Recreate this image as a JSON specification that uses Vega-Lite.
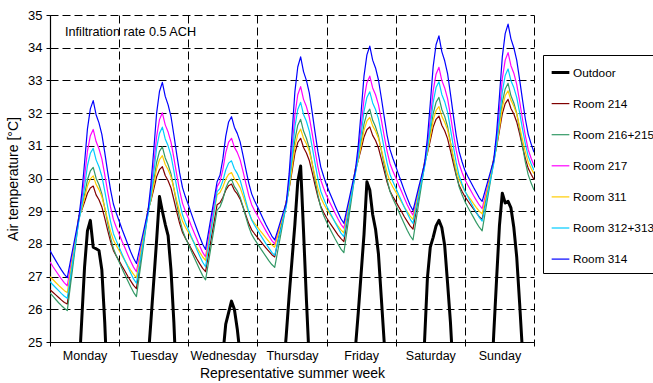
{
"$schema":"https://vega.github.io/schema/vega-lite/v6.json",
"width":484,"height":327,
"autosize":{"type":"none"},
"padding":{"left":50,"top":15,"right":119,"bottom":41},
"config":{
"view":{"stroke":null},
"font":"Liberation Sans",
"axis":{"domainColor":"black","tickColor":"black","labelColor":"black","titleColor":"black","labelFont":"Liberation Sans","titleFont":"Liberation Sans","titleFontWeight":"normal","gridColor":"black","gridDash":[8,4],"gridOpacity":1,"gridWidth":1,"tickSize":4,"domainWidth":1.2},
"axisY":{"tickCount":11},
"legend":{"strokeColor":"black","strokeWidth":1,"fillColor":"white","padding":7,"rowPadding":14.1,"labelFont":"Liberation Sans","labelFontSize":11.8,"labelColor":"black","symbolType":"stroke","symbolSize":313,"labelOffset":2,"orient":"none","legendX":493,"legendY":40}
},
"layer":[
{
"data":{"values":[
{"h":0,"Outdoor":20.5,"Room 214":26.6,"Room 216+215":26.5,"Room 217":27.45,"Room 311":27.0,"Room 312+313":26.85,"Room 314":27.8},
{"h":1,"Outdoor":20.0,"Room 214":26.52,"Room 216+215":26.40,"Room 217":27.31,"Room 311":26.91,"Room 312+313":26.75,"Room 314":27.64},
{"h":2,"Outdoor":19.5,"Room 214":26.44,"Room 216+215":26.30,"Room 217":27.18,"Room 311":26.82,"Room 312+313":26.66,"Room 314":27.49},
{"h":3,"Outdoor":19.1,"Room 214":26.36,"Room 216+215":26.20,"Room 217":27.05,"Room 311":26.73,"Room 312+313":26.57,"Room 314":27.34},
{"h":4,"Outdoor":18.8,"Room 214":26.28,"Room 216+215":26.11,"Room 217":26.92,"Room 311":26.65,"Room 312+313":26.48,"Room 314":27.20},
{"h":5,"Outdoor":18.6,"Room 214":26.21,"Room 216+215":26.03,"Room 217":26.81,"Room 311":26.57,"Room 312+313":26.40,"Room 314":27.07},
{"h":6,"Outdoor":18.9,"Room 214":26.16,"Room 216+215":25.96,"Room 217":26.72,"Room 311":26.51,"Room 312+313":26.34,"Room 314":26.97},
{"h":7,"Outdoor":19.8,"Room 214":26.83,"Room 216+215":26.66,"Room 217":27.23,"Room 311":27.08,"Room 312+313":26.93,"Room 314":27.43},
{"h":8,"Outdoor":21.0,"Room 214":27.51,"Room 216+215":27.36,"Room 217":27.74,"Room 311":27.66,"Room 312+313":27.52,"Room 314":27.89},
{"h":9,"Outdoor":22.4,"Room 214":28.18,"Room 216+215":28.05,"Room 217":28.24,"Room 311":28.23,"Room 312+313":28.11,"Room 314":28.34},
{"h":10,"Outdoor":24.0,"Room 214":28.85,"Room 216+215":28.75,"Room 217":28.75,"Room 311":28.8,"Room 312+313":28.7,"Room 314":28.8},
{"h":11,"Outdoor":25.65,"Room 214":29.03,"Room 216+215":29.07,"Room 217":29.30,"Room 311":29.06,"Room 312+313":29.14,"Room 314":29.52},
{"h":12,"Outdoor":27.3,"Room 214":29.28,"Room 216+215":29.50,"Room 217":30.04,"Room 311":29.40,"Room 312+313":29.74,"Room 314":30.48},
{"h":13,"Outdoor":28.4,"Room 214":29.55,"Room 216+215":29.96,"Room 217":30.84,"Room 311":29.77,"Room 312+313":30.39,"Room 314":31.52},
{"h":14,"Outdoor":28.72,"Room 214":29.71,"Room 216+215":30.23,"Room 217":31.31,"Room 311":29.99,"Room 312+313":30.77,"Room 314":32.13},
{"h":15,"Outdoor":27.9,"Room 214":29.77,"Room 216+215":30.34,"Room 217":31.5,"Room 311":30.08,"Room 312+313":30.92,"Room 314":32.38},
{"h":16,"Outdoor":27.85,"Room 214":29.50,"Room 216+215":30.01,"Room 217":31.13,"Room 311":29.82,"Room 312+313":30.57,"Room 314":31.95},
{"h":17,"Outdoor":27.8,"Room 214":29.35,"Room 216+215":29.81,"Room 217":30.91,"Room 311":29.66,"Room 312+313":30.36,"Room 314":31.70},
{"h":18,"Outdoor":27.2,"Room 214":29.13,"Room 216+215":29.53,"Room 217":30.60,"Room 311":29.44,"Room 312+313":30.07,"Room 314":31.35},
{"h":19,"Outdoor":25.6,"Room 214":28.79,"Room 216+215":29.10,"Room 217":30.12,"Room 311":29.10,"Room 312+313":29.62,"Room 314":30.80},
{"h":20,"Outdoor":23.5,"Room 214":28.42,"Room 216+215":28.64,"Room 217":29.61,"Room 311":28.74,"Room 312+313":29.14,"Room 314":30.21},
{"h":21,"Outdoor":22.4,"Room 214":28.08,"Room 216+215":28.20,"Room 217":29.13,"Room 311":28.39,"Room 312+313":28.69,"Room 314":29.66},
{"h":22,"Outdoor":21.6,"Room 214":27.80,"Room 216+215":27.86,"Room 217":28.75,"Room 311":28.12,"Room 312+313":28.32,"Room 314":29.22},
{"h":23,"Outdoor":21.0,"Room 214":27.63,"Room 216+215":27.64,"Room 217":28.51,"Room 311":27.95,"Room 312+313":28.10,"Room 314":28.94},
{"h":24,"Outdoor":20.5,"Room 214":27.48,"Room 216+215":27.45,"Room 217":28.3,"Room 311":27.8,"Room 312+313":27.9,"Room 314":28.7},
{"h":25,"Outdoor":20.0,"Room 214":27.32,"Room 216+215":27.25,"Room 217":28.08,"Room 311":27.64,"Room 312+313":27.69,"Room 314":28.45},
{"h":26,"Outdoor":19.5,"Room 214":27.17,"Room 216+215":27.06,"Room 217":27.88,"Room 311":27.49,"Room 312+313":27.49,"Room 314":28.22},
{"h":27,"Outdoor":19.1,"Room 214":27.01,"Room 216+215":26.87,"Room 217":27.67,"Room 311":27.34,"Room 312+313":27.30,"Room 314":27.99},
{"h":28,"Outdoor":18.8,"Room 214":26.87,"Room 216+215":26.69,"Room 217":27.47,"Room 311":27.20,"Room 312+313":27.11,"Room 314":27.76},
{"h":29,"Outdoor":18.7,"Room 214":26.73,"Room 216+215":26.52,"Room 217":27.29,"Room 311":27.07,"Room 312+313":26.93,"Room 314":27.56},
{"h":30,"Outdoor":19.0,"Room 214":26.63,"Room 216+215":26.39,"Room 217":27.15,"Room 311":26.97,"Room 312+313":26.8,"Room 314":27.4},
{"h":31,"Outdoor":20.0,"Room 214":27.24,"Room 216+215":27.03,"Room 217":27.6,"Room 311":27.48,"Room 312+313":27.33,"Room 314":27.8},
{"h":32,"Outdoor":21.3,"Room 214":27.84,"Room 216+215":27.67,"Room 217":28.05,"Room 311":27.99,"Room 312+313":27.85,"Room 314":28.2},
{"h":33,"Outdoor":22.9,"Room 214":28.45,"Room 216+215":28.31,"Room 217":28.5,"Room 311":28.49,"Room 312+313":28.38,"Room 314":28.6},
{"h":34,"Outdoor":24.4,"Room 214":29.05,"Room 216+215":28.95,"Room 217":28.95,"Room 311":29.0,"Room 312+313":28.9,"Room 314":29.0},
{"h":35,"Outdoor":25.6,"Room 214":29.31,"Room 216+215":29.35,"Room 217":29.56,"Room 311":29.34,"Room 312+313":29.43,"Room 314":29.79},
{"h":36,"Outdoor":26.85,"Room 214":29.67,"Room 216+215":29.90,"Room 217":30.39,"Room 311":29.80,"Room 312+313":30.16,"Room 314":30.85},
{"h":37,"Outdoor":28.1,"Room 214":30.05,"Room 216+215":30.49,"Room 217":31.28,"Room 311":30.29,"Room 312+313":30.93,"Room 314":31.99},
{"h":38,"Outdoor":29.45,"Room 214":30.27,"Room 216+215":30.83,"Room 217":31.80,"Room 311":30.58,"Room 312+313":31.38,"Room 314":32.66},
{"h":39,"Outdoor":29.0,"Room 214":30.36,"Room 216+215":30.97,"Room 217":32.01,"Room 311":30.70,"Room 312+313":31.57,"Room 314":32.94},
{"h":40,"Outdoor":28.6,"Room 214":30.09,"Room 216+215":30.63,"Room 217":31.64,"Room 311":30.43,"Room 312+313":31.21,"Room 314":32.51},
{"h":41,"Outdoor":28.25,"Room 214":29.93,"Room 216+215":30.42,"Room 217":31.42,"Room 311":30.27,"Room 312+313":31.00,"Room 314":32.25},
{"h":42,"Outdoor":27.2,"Room 214":29.71,"Room 216+215":30.14,"Room 217":31.11,"Room 311":30.05,"Room 312+313":30.70,"Room 314":31.89},
{"h":43,"Outdoor":25.6,"Room 214":29.35,"Room 216+215":29.69,"Room 217":30.63,"Room 311":29.69,"Room 312+313":30.23,"Room 314":31.33},
{"h":44,"Outdoor":23.5,"Room 214":28.98,"Room 216+215":29.22,"Room 217":30.11,"Room 311":29.32,"Room 312+313":29.73,"Room 314":30.73},
{"h":45,"Outdoor":22.4,"Room 214":28.63,"Room 216+215":28.77,"Room 217":29.63,"Room 311":28.97,"Room 312+313":29.26,"Room 314":30.17},
{"h":46,"Outdoor":21.6,"Room 214":28.35,"Room 216+215":28.42,"Room 217":29.24,"Room 311":28.69,"Room 312+313":28.89,"Room 314":29.72},
{"h":47,"Outdoor":21.0,"Room 214":28.17,"Room 216+215":28.19,"Room 217":29.00,"Room 311":28.51,"Room 312+313":28.65,"Room 314":29.44},
{"h":48,"Outdoor":20.4,"Room 214":28.02,"Room 216+215":28.0,"Room 217":28.79,"Room 311":28.36,"Room 312+313":28.45,"Room 314":29.2},
{"h":49,"Outdoor":19.9,"Room 214":27.86,"Room 216+215":27.79,"Room 217":28.56,"Room 311":28.20,"Room 312+313":28.23,"Room 314":28.94},
{"h":50,"Outdoor":19.4,"Room 214":27.70,"Room 216+215":27.59,"Room 217":28.35,"Room 311":28.04,"Room 312+313":28.03,"Room 314":28.69},
{"h":51,"Outdoor":19.0,"Room 214":27.54,"Room 216+215":27.40,"Room 217":28.14,"Room 311":27.89,"Room 312+313":27.82,"Room 314":28.45},
{"h":52,"Outdoor":18.7,"Room 214":27.39,"Room 216+215":27.21,"Room 217":27.93,"Room 311":27.74,"Room 312+313":27.62,"Room 314":28.21},
{"h":53,"Outdoor":18.5,"Room 214":27.25,"Room 216+215":27.03,"Room 217":27.74,"Room 311":27.60,"Room 312+313":27.44,"Room 314":27.99},
{"h":54,"Outdoor":18.8,"Room 214":27.15,"Room 216+215":26.9,"Room 217":27.6,"Room 311":27.5,"Room 312+313":27.3,"Room 314":27.83},
{"h":55,"Outdoor":19.5,"Room 214":27.66,"Room 216+215":27.43,"Room 217":28.14,"Room 311":28.0,"Room 312+313":27.88,"Room 314":28.35},
{"h":56,"Outdoor":20.4,"Room 214":28.18,"Room 216+215":27.97,"Room 217":28.68,"Room 311":28.5,"Room 312+313":28.45,"Room 314":28.87},
{"h":57,"Outdoor":21.4,"Room 214":28.69,"Room 216+215":28.50,"Room 217":29.21,"Room 311":29.0,"Room 312+313":29.03,"Room 314":29.38},
{"h":58,"Outdoor":22.4,"Room 214":29.2,"Room 216+215":29.03,"Room 217":29.75,"Room 311":29.5,"Room 312+313":29.6,"Room 314":29.9},
{"h":59,"Outdoor":23.5,"Room 214":29.26,"Room 216+215":29.13,"Room 217":29.90,"Room 311":29.57,"Room 312+313":29.69,"Room 314":30.10},
{"h":60,"Outdoor":24.6,"Room 214":29.42,"Room 216+215":29.36,"Room 217":30.27,"Room 311":29.74,"Room 312+313":29.93,"Room 314":30.60},
{"h":61,"Outdoor":25.55,"Room 214":29.64,"Room 216+215":29.70,"Room 217":30.79,"Room 311":29.98,"Room 312+313":30.26,"Room 314":31.29},
{"h":62,"Outdoor":25.9,"Room 214":29.78,"Room 216+215":29.90,"Room 217":31.11,"Room 311":30.13,"Room 312+313":30.47,"Room 314":31.73},
{"h":63,"Outdoor":26.25,"Room 214":29.83,"Room 216+215":29.98,"Room 217":31.23,"Room 311":30.18,"Room 312+313":30.54,"Room 314":31.89},
{"h":64,"Outdoor":26.0,"Room 214":29.64,"Room 216+215":29.75,"Room 217":30.96,"Room 311":29.99,"Room 312+313":30.30,"Room 314":31.57},
{"h":65,"Outdoor":25.4,"Room 214":29.53,"Room 216+215":29.62,"Room 217":30.80,"Room 311":29.88,"Room 312+313":30.15,"Room 314":31.38},
{"h":66,"Outdoor":24.6,"Room 214":29.37,"Room 216+215":29.43,"Room 217":30.57,"Room 311":29.72,"Room 312+313":29.95,"Room 314":31.12},
{"h":67,"Outdoor":23.5,"Room 214":29.13,"Room 216+215":29.13,"Room 217":30.22,"Room 311":29.47,"Room 312+313":29.63,"Room 314":30.71},
{"h":68,"Outdoor":22.6,"Room 214":28.87,"Room 216+215":28.82,"Room 217":29.84,"Room 311":29.20,"Room 312+313":29.30,"Room 314":30.27},
{"h":69,"Outdoor":21.9,"Room 214":28.62,"Room 216+215":28.52,"Room 217":29.48,"Room 311":28.95,"Room 312+313":28.98,"Room 314":29.86},
{"h":70,"Outdoor":21.3,"Room 214":28.43,"Room 216+215":28.29,"Room 217":29.20,"Room 311":28.75,"Room 312+313":28.73,"Room 314":29.53},
{"h":71,"Outdoor":20.9,"Room 214":28.31,"Room 216+215":28.14,"Room 217":29.02,"Room 311":28.63,"Room 312+313":28.57,"Room 314":29.32},
{"h":72,"Outdoor":20.5,"Room 214":28.2,"Room 216+215":28.01,"Room 217":28.87,"Room 311":28.52,"Room 312+313":28.43,"Room 314":29.14},
{"h":73,"Outdoor":20.0,"Room 214":28.09,"Room 216+215":27.87,"Room 217":28.70,"Room 311":28.40,"Room 312+313":28.28,"Room 314":28.95},
{"h":74,"Outdoor":19.5,"Room 214":27.98,"Room 216+215":27.74,"Room 217":28.55,"Room 311":28.29,"Room 312+313":28.14,"Room 314":28.76},
{"h":75,"Outdoor":19.1,"Room 214":27.87,"Room 216+215":27.61,"Room 217":28.39,"Room 311":28.18,"Room 312+313":28.00,"Room 314":28.58},
{"h":76,"Outdoor":18.8,"Room 214":27.77,"Room 216+215":27.48,"Room 217":28.24,"Room 311":28.07,"Room 312+313":27.87,"Room 314":28.41},
{"h":77,"Outdoor":18.7,"Room 214":27.67,"Room 216+215":27.37,"Room 217":28.10,"Room 311":27.97,"Room 312+313":27.74,"Room 314":28.24},
{"h":78,"Outdoor":19.2,"Room 214":27.6,"Room 216+215":27.28,"Room 217":28.0,"Room 311":27.9,"Room 312+313":27.65,"Room 314":28.12},
{"h":79,"Outdoor":20.3,"Room 214":28.03,"Room 216+215":27.76,"Room 217":28.3,"Room 311":28.24,"Room 312+313":28.03,"Room 314":28.40},
{"h":80,"Outdoor":21.7,"Room 214":28.45,"Room 216+215":28.24,"Room 217":28.6,"Room 311":28.58,"Room 312+313":28.4,"Room 314":28.69},
{"h":81,"Outdoor":24.1,"Room 214":28.88,"Room 216+215":28.72,"Room 217":28.9,"Room 311":28.91,"Room 312+313":28.78,"Room 314":28.97},
{"h":82,"Outdoor":25.2,"Room 214":29.3,"Room 216+215":29.2,"Room 217":29.2,"Room 311":29.25,"Room 312+313":29.15,"Room 314":29.25},
{"h":83,"Outdoor":26.4,"Room 214":29.69,"Room 216+215":29.72,"Room 217":29.92,"Room 311":29.70,"Room 312+313":29.79,"Room 314":30.14},
{"h":84,"Outdoor":27.5,"Room 214":30.21,"Room 216+215":30.43,"Room 217":30.90,"Room 311":30.31,"Room 312+313":30.65,"Room 314":31.35},
{"h":85,"Outdoor":28.6,"Room 214":30.77,"Room 216+215":31.18,"Room 217":31.94,"Room 311":30.97,"Room 312+313":31.57,"Room 314":32.65},
{"h":86,"Outdoor":29.9,"Room 214":31.10,"Room 216+215":31.63,"Room 217":32.56,"Room 311":31.35,"Room 312+313":32.11,"Room 314":33.41},
{"h":87,"Outdoor":30.38,"Room 214":31.23,"Room 216+215":31.81,"Room 217":32.81,"Room 311":31.51,"Room 312+313":32.33,"Room 314":33.72},
{"h":88,"Outdoor":28.4,"Room 214":30.95,"Room 216+215":31.45,"Room 217":32.42,"Room 311":31.23,"Room 312+313":31.96,"Room 314":33.27},
{"h":89,"Outdoor":26.3,"Room 214":30.78,"Room 216+215":31.23,"Room 217":32.20,"Room 311":31.06,"Room 312+313":31.75,"Room 314":33.00},
{"h":90,"Outdoor":24.4,"Room 214":30.55,"Room 216+215":30.93,"Room 217":31.88,"Room 311":30.83,"Room 312+313":31.45,"Room 314":32.62},
{"h":91,"Outdoor":22.9,"Room 214":30.19,"Room 216+215":30.46,"Room 217":31.38,"Room 311":30.46,"Room 312+313":30.97,"Room 314":32.03},
{"h":92,"Outdoor":22.0,"Room 214":29.80,"Room 216+215":29.96,"Room 217":30.85,"Room 311":30.07,"Room 312+313":30.47,"Room 314":31.41},
{"h":93,"Outdoor":21.4,"Room 214":29.43,"Room 216+215":29.49,"Room 217":30.35,"Room 311":29.70,"Room 312+313":29.99,"Room 314":30.82},
{"h":94,"Outdoor":21.0,"Room 214":29.14,"Room 216+215":29.11,"Room 217":29.95,"Room 311":29.41,"Room 312+313":29.61,"Room 314":30.35},
{"h":95,"Outdoor":20.7,"Room 214":28.96,"Room 216+215":28.87,"Room 217":29.70,"Room 311":29.23,"Room 312+313":29.38,"Room 314":30.06},
{"h":96,"Outdoor":20.4,"Room 214":28.8,"Room 216+215":28.67,"Room 217":29.48,"Room 311":29.07,"Room 312+313":29.17,"Room 314":29.8},
{"h":97,"Outdoor":19.9,"Room 214":28.66,"Room 216+215":28.49,"Room 217":29.29,"Room 311":28.93,"Room 312+313":28.99,"Room 314":29.58},
{"h":98,"Outdoor":19.5,"Room 214":28.53,"Room 216+215":28.32,"Room 217":29.11,"Room 311":28.80,"Room 312+313":28.82,"Room 314":29.37},
{"h":99,"Outdoor":19.1,"Room 214":28.40,"Room 216+215":28.15,"Room 217":28.93,"Room 311":28.67,"Room 312+313":28.65,"Room 314":29.16},
{"h":100,"Outdoor":18.8,"Room 214":28.27,"Room 216+215":27.99,"Room 217":28.76,"Room 311":28.54,"Room 312+313":28.49,"Room 314":28.96},
{"h":101,"Outdoor":18.7,"Room 214":28.16,"Room 216+215":27.84,"Room 217":28.60,"Room 311":28.43,"Room 312+313":28.33,"Room 314":28.77},
{"h":102,"Outdoor":19.1,"Room 214":28.07,"Room 216+215":27.73,"Room 217":28.48,"Room 311":28.34,"Room 312+313":28.22,"Room 314":28.63},
{"h":103,"Outdoor":20.2,"Room 214":28.63,"Room 216+215":28.35,"Room 217":28.91,"Room 311":28.82,"Room 312+313":28.70,"Room 314":29.04},
{"h":104,"Outdoor":21.6,"Room 214":29.19,"Room 216+215":28.97,"Room 217":29.34,"Room 311":29.30,"Room 312+313":29.19,"Room 314":29.44},
{"h":105,"Outdoor":23.6,"Room 214":29.74,"Room 216+215":29.58,"Room 217":29.77,"Room 311":29.77,"Room 312+313":29.67,"Room 314":29.85},
{"h":106,"Outdoor":24.8,"Room 214":30.3,"Room 216+215":30.2,"Room 217":30.2,"Room 311":30.25,"Room 312+313":30.15,"Room 314":30.25},
{"h":107,"Outdoor":25.9,"Room 214":30.56,"Room 216+215":30.58,"Room 217":30.79,"Room 311":30.57,"Room 312+313":30.65,"Room 314":31.01},
{"h":108,"Outdoor":27.1,"Room 214":30.90,"Room 216+215":31.10,"Room 217":31.58,"Room 311":31.01,"Room 312+313":31.33,"Room 314":32.04},
{"h":109,"Outdoor":28.3,"Room 214":31.27,"Room 216+215":31.66,"Room 217":32.43,"Room 311":31.48,"Room 312+313":32.05,"Room 314":33.14},
{"h":110,"Outdoor":29.9,"Room 214":31.49,"Room 216+215":31.99,"Room 217":32.93,"Room 311":31.76,"Room 312+313":32.48,"Room 314":33.78},
{"h":111,"Outdoor":29.65,"Room 214":31.58,"Room 216+215":32.12,"Room 217":33.13,"Room 311":31.87,"Room 312+313":32.65,"Room 314":34.05},
{"h":112,"Outdoor":28.9,"Room 214":31.32,"Room 216+215":31.78,"Room 217":32.77,"Room 311":31.61,"Room 312+313":32.31,"Room 314":33.62},
{"h":113,"Outdoor":28.45,"Room 214":31.16,"Room 216+215":31.58,"Room 217":32.56,"Room 311":31.45,"Room 312+313":32.11,"Room 314":33.38},
{"h":114,"Outdoor":27.7,"Room 214":30.94,"Room 216+215":31.30,"Room 217":32.26,"Room 311":31.23,"Room 312+313":31.83,"Room 314":33.02},
{"h":115,"Outdoor":26.35,"Room 214":30.60,"Room 216+215":30.86,"Room 217":31.80,"Room 311":30.89,"Room 312+313":31.39,"Room 314":32.47},
{"h":116,"Outdoor":25.0,"Room 214":30.24,"Room 216+215":30.40,"Room 217":31.30,"Room 311":30.53,"Room 312+313":30.92,"Room 314":31.89},
{"h":117,"Outdoor":23.6,"Room 214":29.89,"Room 216+215":29.96,"Room 217":30.84,"Room 311":30.18,"Room 312+313":30.48,"Room 314":31.33},
{"h":118,"Outdoor":22.5,"Room 214":29.62,"Room 216+215":29.61,"Room 217":30.46,"Room 311":29.91,"Room 312+313":30.13,"Room 314":30.89},
{"h":119,"Outdoor":21.7,"Room 214":29.45,"Room 216+215":29.39,"Room 217":30.23,"Room 311":29.74,"Room 312+313":29.91,"Room 314":30.62},
{"h":120,"Outdoor":21.2,"Room 214":29.3,"Room 216+215":29.2,"Room 217":30.03,"Room 311":29.59,"Room 312+313":29.72,"Room 314":30.38},
{"h":121,"Outdoor":20.6,"Room 214":29.14,"Room 216+215":29.0,"Room 217":29.81,"Room 311":29.43,"Room 312+313":29.51,"Room 314":30.12},
{"h":122,"Outdoor":20.1,"Room 214":28.99,"Room 216+215":28.80,"Room 217":29.61,"Room 311":29.28,"Room 312+313":29.32,"Room 314":29.88},
{"h":123,"Outdoor":19.7,"Room 214":28.83,"Room 216+215":28.61,"Room 217":29.40,"Room 311":29.13,"Room 312+313":29.12,"Room 314":29.63},
{"h":124,"Outdoor":19.4,"Room 214":28.69,"Room 216+215":28.42,"Room 217":29.20,"Room 311":28.99,"Room 312+313":28.94,"Room 314":29.40},
{"h":125,"Outdoor":19.2,"Room 214":28.55,"Room 216+215":28.25,"Room 217":29.02,"Room 311":28.85,"Room 312+313":28.76,"Room 314":29.18},
{"h":126,"Outdoor":19.5,"Room 214":28.45,"Room 216+215":28.12,"Room 217":28.88,"Room 311":28.75,"Room 312+313":28.63,"Room 314":29.02},
{"h":127,"Outdoor":20.4,"Room 214":28.96,"Room 216+215":28.69,"Room 217":29.26,"Room 311":29.18,"Room 312+313":29.06,"Room 314":29.38},
{"h":128,"Outdoor":21.6,"Room 214":29.48,"Room 216+215":29.26,"Room 217":29.64,"Room 311":29.6,"Room 312+313":29.49,"Room 314":29.74},
{"h":129,"Outdoor":23.1,"Room 214":29.99,"Room 216+215":29.83,"Room 217":30.02,"Room 311":30.03,"Room 312+313":29.92,"Room 314":30.09},
{"h":130,"Outdoor":25.0,"Room 214":30.5,"Room 216+215":30.4,"Room 217":30.4,"Room 311":30.45,"Room 312+313":30.35,"Room 314":30.45},
{"h":131,"Outdoor":26.95,"Room 214":30.78,"Room 216+215":30.82,"Room 217":31.0,"Room 311":30.8,"Room 312+313":30.87,"Room 314":31.23},
{"h":132,"Outdoor":27.9,"Room 214":31.16,"Room 216+215":31.38,"Room 217":31.81,"Room 311":31.27,"Room 312+313":31.58,"Room 314":32.29},
{"h":133,"Outdoor":28.2,"Room 214":31.57,"Room 216+215":31.98,"Room 217":32.68,"Room 311":31.78,"Room 312+313":32.33,"Room 314":33.42},
{"h":134,"Outdoor":28.55,"Room 214":31.81,"Room 216+215":32.33,"Room 217":33.19,"Room 311":32.08,"Room 312+313":32.78,"Room 314":34.09},
{"h":135,"Outdoor":28.72,"Room 214":31.91,"Room 216+215":32.48,"Room 217":33.4,"Room 311":32.2,"Room 312+313":32.96,"Room 314":34.36},
{"h":136,"Outdoor":28.5,"Room 214":31.63,"Room 216+215":32.11,"Room 217":33.00,"Room 311":31.90,"Room 312+313":32.57,"Room 314":33.88},
{"h":137,"Outdoor":27.95,"Room 214":31.46,"Room 216+215":31.90,"Room 217":32.77,"Room 311":31.72,"Room 312+313":32.35,"Room 314":33.60},
{"h":138,"Outdoor":26.8,"Room 214":31.22,"Room 216+215":31.59,"Room 217":32.44,"Room 311":31.48,"Room 312+313":32.03,"Room 314":33.21},
{"h":139,"Outdoor":25.6,"Room 214":30.85,"Room 216+215":31.11,"Room 217":31.93,"Room 311":31.09,"Room 312+313":31.52,"Room 314":32.59},
{"h":140,"Outdoor":24.0,"Room 214":30.46,"Room 216+215":30.60,"Room 217":31.38,"Room 311":30.67,"Room 312+313":30.99,"Room 314":31.94},
{"h":141,"Outdoor":22.8,"Room 214":30.09,"Room 216+215":30.13,"Room 217":30.86,"Room 311":30.28,"Room 312+313":30.49,"Room 314":31.32},
{"h":142,"Outdoor":22.0,"Room 214":29.79,"Room 216+215":29.75,"Room 217":30.45,"Room 311":29.97,"Room 312+313":30.09,"Room 314":30.83},
{"h":143,"Outdoor":21.4,"Room 214":29.61,"Room 216+215":29.51,"Room 217":30.19,"Room 311":29.78,"Room 312+313":29.84,"Room 314":30.52},
{"h":144,"Outdoor":20.9,"Room 214":29.45,"Room 216+215":29.3,"Room 217":29.97,"Room 311":29.61,"Room 312+313":29.62,"Room 314":30.25},
{"h":145,"Outdoor":20.4,"Room 214":29.32,"Room 216+215":29.13,"Room 217":29.80,"Room 311":29.48,"Room 312+313":29.45,"Room 314":30.07},
{"h":146,"Outdoor":20.0,"Room 214":29.19,"Room 216+215":28.97,"Room 217":29.64,"Room 311":29.36,"Room 312+313":29.28,"Room 314":29.90},
{"h":147,"Outdoor":19.6,"Room 214":29.07,"Room 216+215":28.81,"Room 217":29.48,"Room 311":29.23,"Room 312+313":29.11,"Room 314":29.73},
{"h":148,"Outdoor":19.3,"Room 214":28.95,"Room 216+215":28.65,"Room 217":29.33,"Room 311":29.11,"Room 312+313":28.96,"Room 314":29.57},
{"h":149,"Outdoor":19.2,"Room 214":28.83,"Room 216+215":28.51,"Room 217":29.19,"Room 311":29.0,"Room 312+313":28.81,"Room 314":29.41},
{"h":150,"Outdoor":19.5,"Room 214":28.75,"Room 216+215":28.4,"Room 217":29.08,"Room 311":28.92,"Room 312+313":28.7,"Room 314":29.3},
{"h":151,"Outdoor":20.4,"Room 214":29.21,"Room 216+215":28.93,"Room 217":29.44,"Room 311":29.33,"Room 312+313":29.14,"Room 314":29.61},
{"h":152,"Outdoor":21.6,"Room 214":29.68,"Room 216+215":29.45,"Room 217":29.79,"Room 311":29.74,"Room 312+313":29.58,"Room 314":29.93},
{"h":153,"Outdoor":23.3,"Room 214":30.14,"Room 216+215":29.98,"Room 217":30.15,"Room 311":30.14,"Room 312+313":30.01,"Room 314":30.24},
{"h":154,"Outdoor":25.2,"Room 214":30.6,"Room 216+215":30.5,"Room 217":30.5,"Room 311":30.55,"Room 312+313":30.45,"Room 314":30.55},
{"h":155,"Outdoor":26.9,"Room 214":30.96,"Room 216+215":30.98,"Room 217":31.17,"Room 311":30.98,"Room 312+313":31.03,"Room 314":31.38},
{"h":156,"Outdoor":28.55,"Room 214":31.46,"Room 216+215":31.63,"Room 217":32.08,"Room 311":31.55,"Room 312+313":31.81,"Room 314":32.51},
{"h":157,"Outdoor":29.55,"Room 214":31.98,"Room 216+215":32.33,"Room 217":33.05,"Room 311":32.17,"Room 312+313":32.65,"Room 314":33.72},
{"h":158,"Outdoor":29.25,"Room 214":32.29,"Room 216+215":32.74,"Room 217":33.62,"Room 311":32.53,"Room 312+313":33.15,"Room 314":34.43},
{"h":159,"Outdoor":29.3,"Room 214":32.42,"Room 216+215":32.91,"Room 217":33.85,"Room 311":32.68,"Room 312+313":33.35,"Room 314":34.72},
{"h":160,"Outdoor":29.1,"Room 214":32.14,"Room 216+215":32.53,"Room 217":33.45,"Room 311":32.39,"Room 312+313":32.99,"Room 314":34.27},
{"h":161,"Outdoor":28.5,"Room 214":31.97,"Room 216+215":32.31,"Room 217":33.22,"Room 311":32.21,"Room 312+313":32.78,"Room 314":34.0},
{"h":162,"Outdoor":27.6,"Room 214":31.73,"Room 216+215":32.0,"Room 217":32.88,"Room 311":31.97,"Room 312+313":32.48,"Room 314":33.62},
{"h":163,"Outdoor":26.2,"Room 214":31.37,"Room 216+215":31.51,"Room 217":32.37,"Room 311":31.59,"Room 312+313":32.02,"Room 314":33.03},
{"h":164,"Outdoor":24.7,"Room 214":30.98,"Room 216+215":30.99,"Room 217":31.82,"Room 311":31.19,"Room 312+313":31.52,"Room 314":32.41},
{"h":165,"Outdoor":23.3,"Room 214":30.61,"Room 216+215":30.50,"Room 217":31.30,"Room 311":30.81,"Room 312+313":31.06,"Room 314":31.82},
{"h":166,"Outdoor":22.3,"Room 214":30.31,"Room 216+215":30.11,"Room 217":30.88,"Room 311":30.50,"Room 312+313":30.68,"Room 314":31.35},
{"h":167,"Outdoor":21.6,"Room 214":30.13,"Room 216+215":29.86,"Room 217":30.62,"Room 311":30.31,"Room 312+313":30.45,"Room 314":31.06},
{"h":168,"Outdoor":21.0,"Room 214":29.97,"Room 216+215":29.65,"Room 217":30.4,"Room 311":30.15,"Room 312+313":30.25,"Room 314":30.8}
]},
"transform":[{"fold":["Room 214","Room 216+215","Room 217","Room 311","Room 312+313","Room 314","Outdoor"],"as":["series","temp"]}],
"mark":{"type":"line","clip":true,"strokeJoin":"round"},
"encoding":{
"x":{"field":"h","type":"quantitative","scale":{"domain":[0,168],"nice":false,"zero":false},
"axis":{"values":[0,24,48,72,96,120,144,168],"labelExpr":"['Monday','Tuesday','Wednesday','Thursday','Friday','Saturday','Sunday',''][round(datum.value/24)]","labelOffset":34.6,"labelFontSize":12.5,"labelPadding":3,"title":"Representative summer week","titleFontSize":14,"titlePadding":5,"grid":true,"labelFlush":false,"labelOverlap":false,"labelBound":false}},
"y":{"field":"temp","type":"quantitative","scale":{"domain":[25,35],"nice":false,"zero":false},
"axis":{"values":[25,26,27,28,29,30,31,32,33,34,35],"tickCount":11,"labelFontSize":13,"labelPadding":4,"labelOverlap":false,"labelFlush":false,"title":"Air temperature [°C]","titleFontSize":14,"titlePadding":7,"grid":true}},
"color":{"field":"series","type":"nominal","scale":{"domain":["Outdoor","Room 214","Room 216+215","Room 217","Room 311","Room 312+313","Room 314"],"range":["#000000","#800000","#339966","#FF00FF","#FFCC00","#00CCFF","#0000FF"]},"legend":{"title":null}},
"strokeWidth":{"field":"series","type":"nominal","scale":{"type":"ordinal","domain":["Outdoor","Room 214","Room 216+215","Room 217","Room 311","Room 312+313","Room 314"],"range":[3,1.2,1.2,1.2,1.2,1.2,1.2]},"legend":{"title":null}}
}
},
{
"data":{"values":[{"label":"Infiltration rate 0.5 ACH"}]},
"mark":{"type":"text","align":"left","baseline":"middle","font":"Liberation Sans","fontSize":12.7,"color":"black"},
"encoding":{
"x":{"datum":5.2,"type":"quantitative","axis":{"values":[0,24,48,72,96,120,144,168],"labelExpr":"['Monday','Tuesday','Wednesday','Thursday','Friday','Saturday','Sunday',''][round(datum.value/24)]","labelOffset":34.6,"labelFontSize":12.5,"labelPadding":3,"title":"Representative summer week","titleFontSize":14,"titlePadding":5,"grid":true,"labelFlush":false,"labelOverlap":false,"labelBound":false}},
"y":{"datum":34.48,"type":"quantitative","axis":{"values":[25,26,27,28,29,30,31,32,33,34,35],"tickCount":11,"labelFontSize":13,"labelPadding":4,"labelOverlap":false,"labelFlush":false,"title":"Air temperature [°C]","titleFontSize":14,"titlePadding":7,"grid":true}},
"text":{"field":"label"}}
}
]
}
